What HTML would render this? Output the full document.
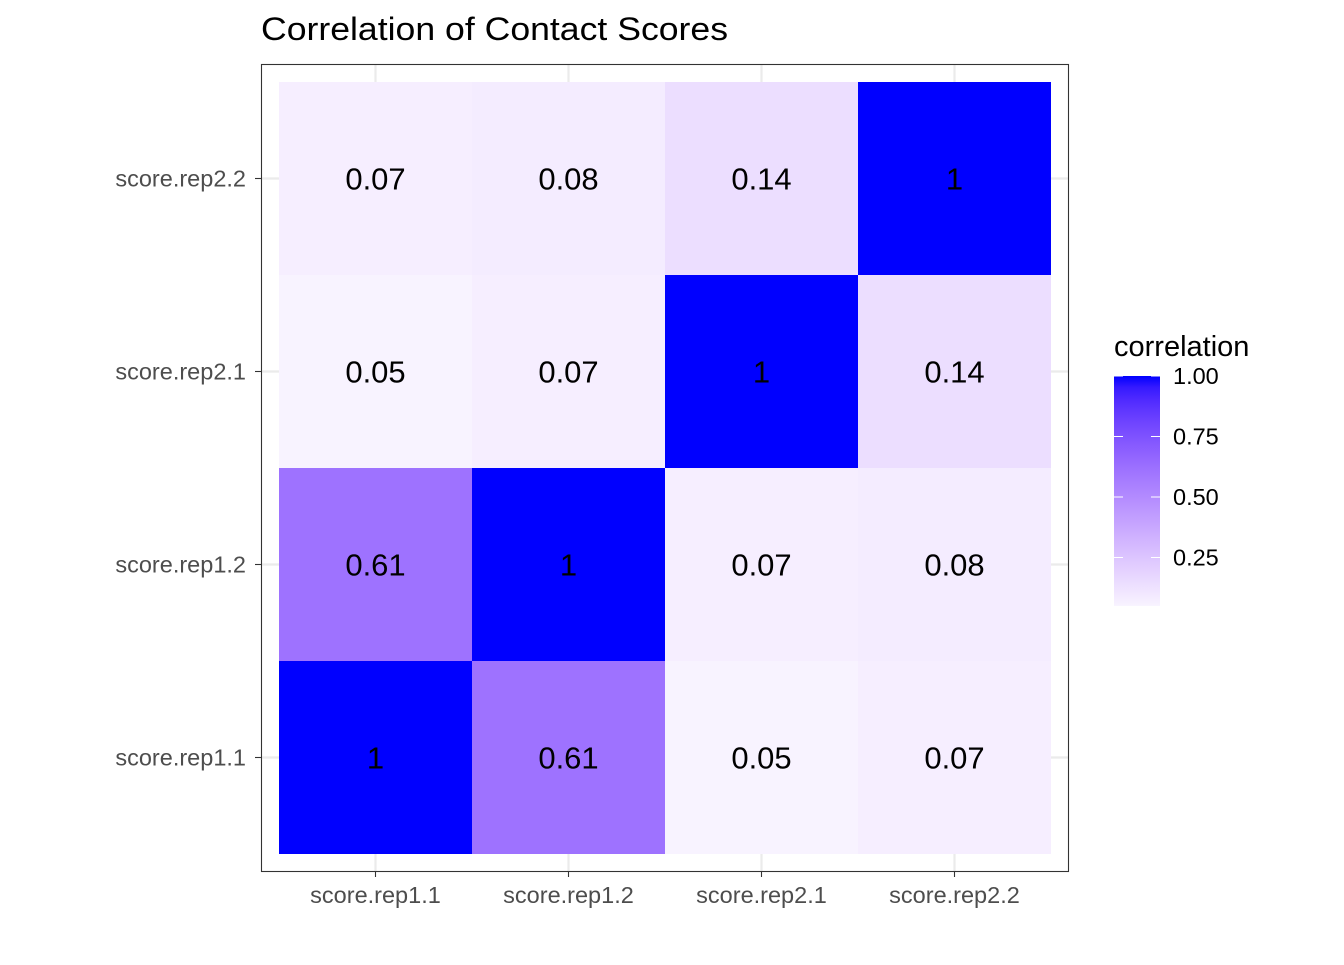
<!DOCTYPE html>
<html><head><meta charset="utf-8"><style>
body{margin:0;background:#fff;font-family:"Liberation Sans",sans-serif;}
</style></head><body>
<svg id="chart" width="1344" height="960" xmlns="http://www.w3.org/2000/svg">
<text x="261" y="40" font-size="32" fill="#000" textLength="467" lengthAdjust="spacingAndGlyphs">Correlation of Contact Scores</text>
<g id="grid"></g>
<g id="cells"></g>
<rect x="261.5" y="64.5" width="807" height="807" fill="none" stroke="#333" stroke-width="1.1"/>
<g id="axes"></g>
<g id="legend"></g>
</svg>
<script>
const rowsLabels = ["score.rep1.1","score.rep1.2","score.rep2.1","score.rep2.2"];
const colsLabels = ["score.rep1.1","score.rep1.2","score.rep2.1","score.rep2.2"];
const corrRow1 = [1,0.61,0.05,0.07];
const corrRow2 = [0.61,1,0.07,0.08];
const corrRow3 = [0.05,0.07,1,0.14];
const corrRow4 = [0.07,0.08,0.14,1];
const legendTicks = [0.25,0.5,0.75,1.0];
const legendTickLabels = ["0.25","0.50","0.75","1.00"];
const matrix = [corrRow1,corrRow2,corrRow3,corrRow4];
const NS="http://www.w3.org/2000/svg";
function mk(t,a,p){const e=document.createElementNS(NS,t);for(const k in a)e.setAttribute(k,a[k]);p.appendChild(e);return e;}
const step=193, x0=279, yBottom=854;
const xs=i=>x0+step*i, ys=j=>yBottom-step*(j+1);
function toLin(c){c/=255;return c<=0.04045?c/12.92:Math.pow((c+0.055)/1.055,2.4);}
function toS(c){c=c<=0.0031308?12.92*c:1.055*Math.pow(c,1/2.4)-0.055;return Math.max(0,Math.min(255,Math.round(c*255)));}
function rgb2lab(r,g,b){r=toLin(r);g=toLin(g);b=toLin(b);
let X=(0.4124*r+0.3576*g+0.1805*b)/0.95047,Y=0.2126*r+0.7152*g+0.0722*b,Z=(0.0193*r+0.1192*g+0.9505*b)/1.08883;
const f=t=>t>0.008856?Math.cbrt(t):7.787*t+16/116;
return [116*f(Y)-16,500*(f(X)-f(Y)),200*(f(Y)-f(Z))];}
function lab2rgb(L,a,b){const fy=(L+16)/116,fx=fy+a/500,fz=fy-b/200;
const fi=t=>t*t*t>0.008856?t*t*t:(t-16/116)/7.787;
const X=fi(fx)*0.95047,Y=fi(fy),Z=fi(fz)*1.08883;
const r=3.2406*X-1.5372*Y-0.4986*Z,g=-0.9689*X+1.8758*Y+0.0415*Z,bb=0.0557*X-0.2040*Y+1.0570*Z;
return `rgb(${toS(r)},${toS(g)},${toS(bb)})`;}
const lo=rgb2lab(255,255,255),hi=rgb2lab(0,0,255);
function col(v){const t=Math.max(0,Math.min(1,v));return lab2rgb(lo[0]+(hi[0]-lo[0])*t,lo[1]+(hi[1]-lo[1])*t,lo[2]+(hi[2]-lo[2])*t);}
const grid=document.getElementById('grid'),cells=document.getElementById('cells'),axes=document.getElementById('axes'),leg=document.getElementById('legend');
for(let i=0;i<4;i++){
 const cx=xs(i)+step/2, cy=ys(i)+step/2;
 let l=mk('line',{x1:cx,x2:cx,y1:64,y2:871,stroke:'#ebebeb','stroke-width':2.2},grid);
 
 l=mk('line',{x1:261,x2:1069,y1:cy,y2:cy,stroke:'#ebebeb','stroke-width':2.2},grid);
 
 let t=mk('line',{x1:cx,x2:cx,y1:871,y2:877,stroke:'#333','stroke-width':1.1},axes);
 
 let tx=mk('text',{x:cx,y:903,'font-size':23.5,fill:'#4d4d4d','text-anchor':'middle'},axes);tx.textContent=colsLabels[i];
 
 t=mk('line',{x1:255,x2:261,y1:cy,y2:cy,stroke:'#333','stroke-width':1.1},axes);
 
 tx=mk('text',{x:246,y:cy+8,'font-size':23.5,fill:'#4d4d4d','text-anchor':'end'},axes);tx.textContent=rowsLabels[i];
 
}
for(let r=0;r<4;r++)for(let c=0;c<4;c++){
 const v=matrix[r][c];
 const rc=mk('rect',{x:xs(c),y:ys(r),width:step,height:step,fill:col(v)},cells);
 
 const t=mk('text',{x:xs(c)+step/2,y:ys(r)+step/2+11,'font-size':31,fill:'#000','text-anchor':'middle'},cells);
 t.textContent=String(v);
 
}
const lt=mk('text',{x:1114,y:356,'font-size':29,fill:'#000'},leg);lt.textContent='correlation';

const vmin=0.05,vmax=1,ly=v=>376+(1-v)/0.25*60.5;
const defs=mk('defs',{},leg),gr=mk('linearGradient',{id:'lg',x1:0,y1:1,x2:0,y2:0},defs);
for(let k=0;k<=20;k++){const v=vmin+(vmax-vmin)*k/20;mk('stop',{offset:k/20,'stop-color':col(v)},gr);}
const bar=mk('rect',{x:1114,y:ly(vmax),width:46,height:ly(vmin)-ly(vmax),fill:'url(#lg)'},leg);

legendTicks.forEach((v,i)=>{
 const y=ly(v);
 let a=mk('line',{x1:1114,x2:1123,y1:y,y2:y,stroke:'#fff','stroke-width':1},leg);
 
 a=mk('line',{x1:1151,x2:1160,y1:y,y2:y,stroke:'#fff','stroke-width':1},leg);
 
 const t=mk('text',{x:1173,y:y+8,'font-size':23.5,fill:'#000'},leg);t.textContent=legendTickLabels[i];
 
});
</script>
</body></html>
